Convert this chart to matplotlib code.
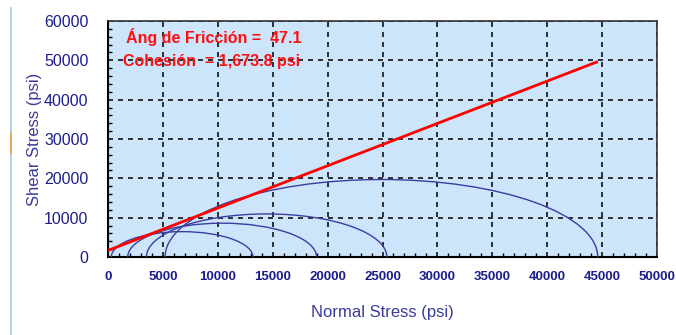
import numpy as np
import matplotlib.pyplot as plt
from matplotlib.patches import Arc
from matplotlib.lines import Line2D

plt.rcParams['font.family'] = ['Liberation Sans', 'DejaVu Sans']

# Mohr circles (principal stresses, psi)
sigma3 = [300, 1800, 3500, 5200]
sigma1 = [13200, 19000, 25400, 44600]

# failure envelope
cohesion = 1673.8
friccion = 47.1
sigma_env = [0, 44500]

x_ticks = [0, 5000, 10000, 15000, 20000, 25000, 30000, 35000, 40000, 45000, 50000]
y_ticks = [0, 10000, 20000, 30000, 40000, 50000, 60000]

navy = '#1c1c8c'
W, H = 676, 335

fig = plt.figure(figsize=(W / 100, H / 100), dpi=100)
fig.patch.set_facecolor('white')
ax = fig.add_axes([108 / W, 1 - 257 / H, (657 - 108) / W, (257 - 21) / H])
ax.set_facecolor('#cce5fb')

for s3, s1 in zip(sigma3, sigma1):
    c = (s1 + s3) / 2
    d = s1 - s3
    ax.add_patch(Arc((c, 0), d, d, theta1=0, theta2=180,
                     color='#3c3ca0', linewidth=1.0, zorder=3))

tau_env = [cohesion + s * np.tan(np.radians(friccion)) for s in sigma_env]
ax.plot(sigma_env, tau_env, '-', color='#ff0000', linewidth=2, zorder=4)

ax.set_xlim(0, 50000)
ax.set_ylim(0, 60000)
ax.set_xticks(x_ticks)
ax.set_yticks(y_ticks)
ax.set_xticks(np.arange(0, 50001, 1000), minor=True)
ax.set_yticks(np.arange(0, 60001, 2000), minor=True)
ax.set_xticklabels([str(v) for v in x_ticks], fontsize=9.5, color=navy,
                   fontweight='bold')
ax.set_yticklabels([str(v) for v in y_ticks], fontsize=11.5, color=navy)
ax.tick_params(axis='y', which='major', length=0, pad=14)
ax.tick_params(axis='x', which='major', length=0, pad=10)
ax.tick_params(axis='both', which='minor', direction='in', length=3,
               width=1, color='black')

ax.grid(True, which='major', color='#111111', linestyle=(0, (3, 3)),
        linewidth=1.2, zorder=1)
ax.set_axisbelow(True)

for side in ['left', 'bottom']:
    ax.spines[side].set_linewidth(1.5)
    ax.spines[side].set_color('black')
for side in ['top', 'right']:
    ax.spines[side].set_linewidth(1.2)
    ax.spines[side].set_color('#333333')

ax.set_xlabel('Normal Stress (psi)', fontsize=12, color='#3a3a9a',
              labelpad=16)
ax.set_ylabel('Shear Stress (psi)', fontsize=12, color='#3a3a9a',
              labelpad=0)
ax.yaxis.set_label_coords(-0.12, 0.5)

ax.text(1600, 56000, 'Áng de Fricción =  47.1', color='#ff1010',
        fontsize=11.5, fontweight='bold', va='center', zorder=5)
ax.text(1400, 49800, 'Cohesión  = 1,673.8 psi', color='#ff1010',
        fontsize=11.5, fontweight='bold', va='center', zorder=5)

# window border on the left
fig.add_artist(Line2D([11 / W, 11 / W], [0, 1 - 8 / H], color='#a9c9e9',
                      linewidth=1.2))
fig.add_artist(Line2D([11 / W, 11 / W], [1 - 153 / H, 1 - 133 / H],
                      color='#f0a040', linewidth=1.2))

fig.savefig('out.png', dpi=100)
